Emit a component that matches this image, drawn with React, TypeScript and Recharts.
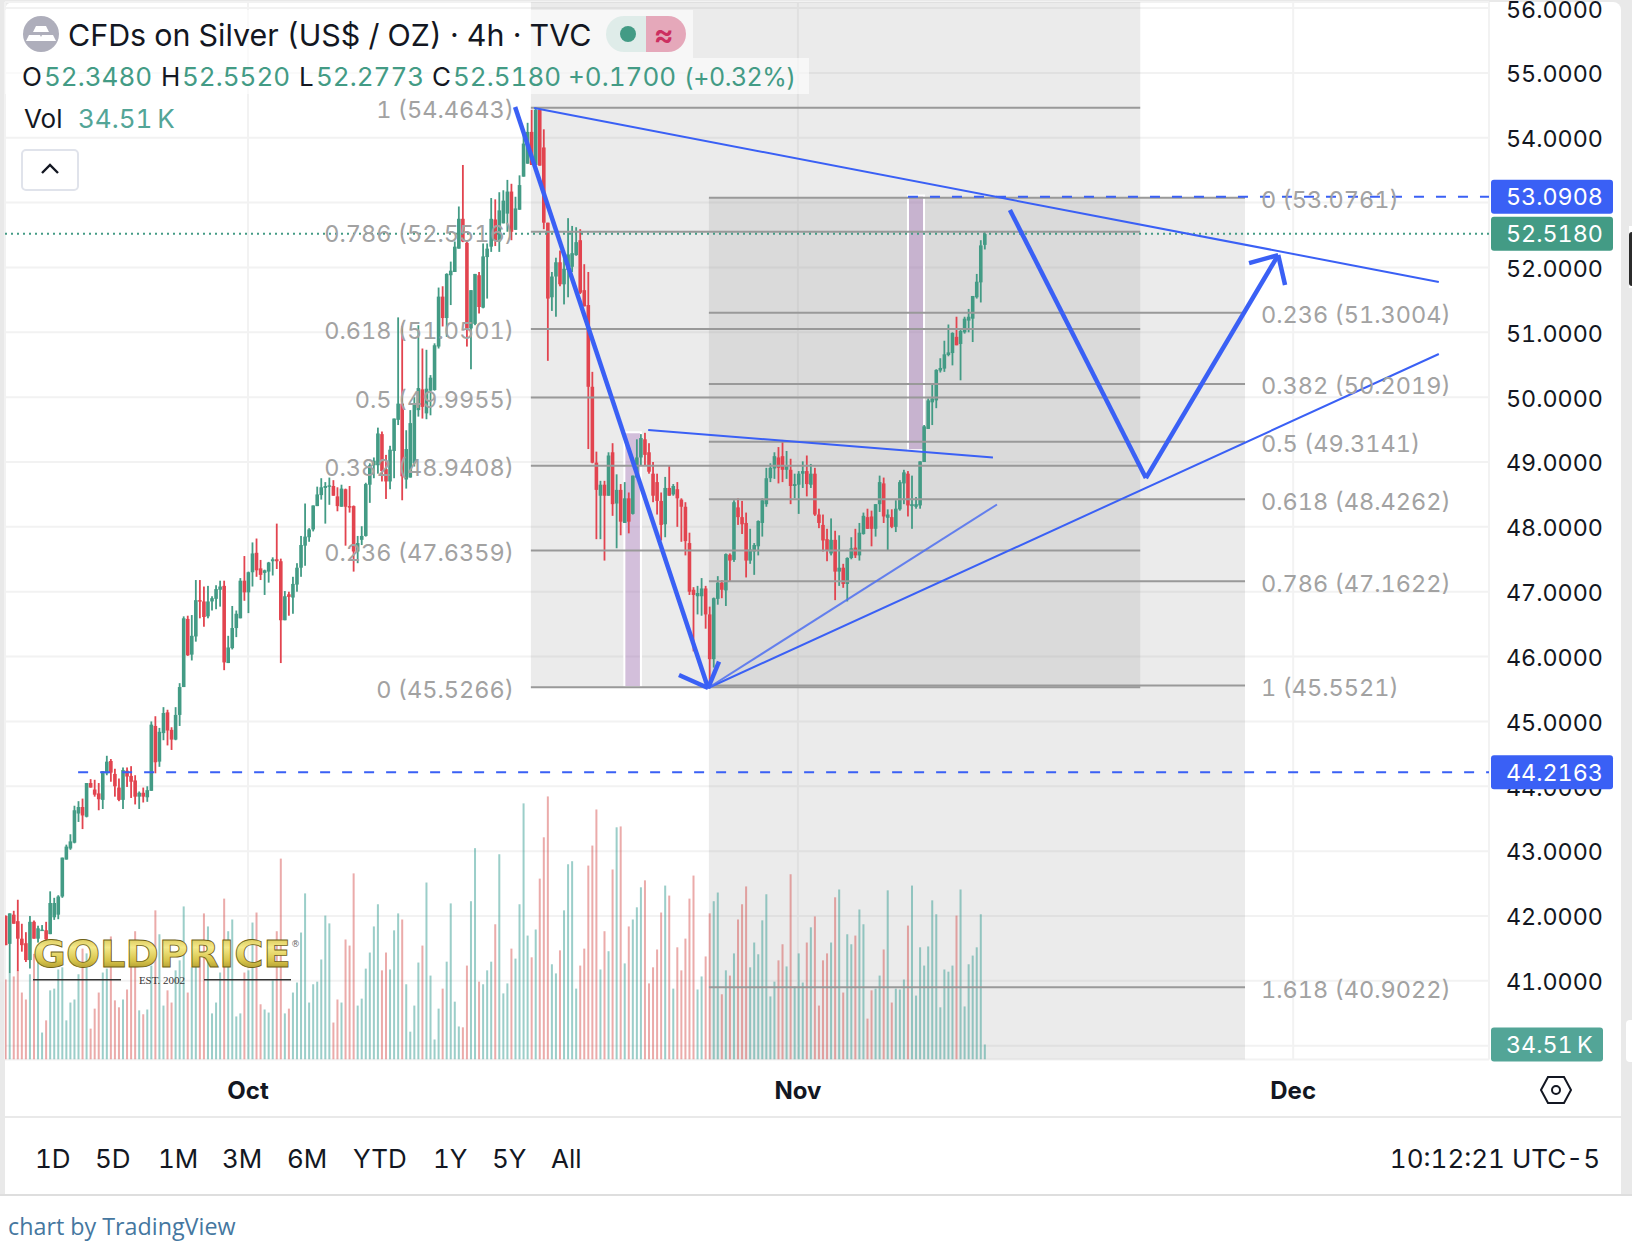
import {
  Bar,
  CartesianGrid,
  ComposedChart,
  ReferenceArea,
  ReferenceLine,
  XAxis,
  YAxis,
} from "recharts";

const opens = [
  42.0, 41.57, 42.02, 41.92, 41.65, 41.58, 41.32, 41.91, 41.65, 41.77,
  41.78, 41.72, 41.98, 42.02, 42.3, 42.87, 43.04, 43.13, 43.58, 43.68,
  43.53, 44.05, 43.95, 43.89, 43.79, 44.2, 44.39, 44.19, 43.98, 43.79,
  44.24, 44.16, 44.09, 43.84, 43.9, 43.83, 43.93, 44.93, 44.38, 44.82,
  45.14, 44.87, 44.72, 45.1, 45.53, 46.58, 46.03, 46.31, 46.87, 46.85,
  46.62, 46.85, 46.89, 47.03, 47.09, 45.9, 46.13, 46.44, 46.59, 47.17,
  46.99, 47.3, 47.6, 47.36, 47.29, 47.31, 47.47, 47.5, 47.47, 46.56,
  46.96, 46.91, 47.11, 47.37, 47.71, 47.84, 47.96, 48.32, 48.49, 48.6,
  48.62, 48.63, 48.47, 48.31, 48.58, 48.32, 48.32, 47.62, 47.8, 47.86,
  48.65, 48.95, 48.95, 49.43, 48.89, 48.7, 49.17, 49.65, 49.9, 48.73,
  48.76, 48.98, 49.8, 50.12, 49.75, 50.1, 50.11, 50.78, 51.55, 51.22,
  51.88, 51.93, 52.29, 52.75, 52.38, 51.06, 51.13, 51.88, 51.38, 52.16,
  52.32, 52.74, 52.4, 52.68, 52.83, 53.17, 52.58, 52.89, 53.4, 53.6,
  54.09, 53.58, 54.43, 53.85, 52.69, 51.54, 51.86, 52.08, 51.74, 51.96,
  52.01, 52.19, 52.42, 51.65, 51.42, 50.16, 48.99, 48.48, 48.65, 48.48,
  49.15, 48.36, 48.57, 48.06, 48.44, 48.2, 48.76, 49.07, 49.35, 49.15,
  48.82, 48.69, 48.4, 48.04, 48.6, 48.5, 48.58, 48.42, 48.31, 47.75,
  47.03, 46.93, 46.93, 47.05, 46.65, 45.96, 46.89, 47.14, 47.02, 47.57,
  47.49, 48.3, 48.15, 48.06, 47.48, 47.62, 47.7, 48.06, 48.35, 48.75,
  48.9, 49.07, 49.09, 48.88, 48.88, 48.63, 48.65, 48.82, 48.86, 48.65,
  48.82, 48.19, 48.03, 47.81, 47.59, 47.8, 47.31, 47.37, 47.12, 47.52,
  47.68, 47.56, 47.89, 48.15, 48.16, 47.97, 48.35, 48.67, 48.14, 48.15,
  48.0, 48.27, 48.67, 48.82, 48.32, 48.31, 48.33, 49.0, 49.51, 49.92,
  49.95, 50.41, 50.44, 50.65, 50.68, 50.93, 50.82, 51.0, 51.18, 51.21,
  51.54, 51.77, 52.348,
];

const highs = [
  42.01, 42.04, 42.08, 42.25, 41.88, 41.75, 42.0, 41.93, 41.85, 41.86,
  41.91, 42.38, 42.28, 42.32, 42.9, 43.1, 43.26, 43.7, 43.77, 43.81,
  44.05, 44.11, 44.1, 44.05, 44.23, 44.47, 44.42, 44.27, 44.12, 44.29,
  44.29, 44.31, 44.17, 43.92, 43.98, 44.0, 45.0, 45.08, 44.9, 45.22,
  45.18, 44.91, 45.22, 45.59, 46.62, 46.63, 46.64, 47.18, 47.18, 47.08,
  47.09, 46.93, 47.1, 47.17, 47.17, 46.32, 46.78, 46.71, 47.21, 47.55,
  47.31, 47.76, 47.82, 47.49, 47.34, 47.46, 47.53, 48.05, 47.51, 47.01,
  47.0, 47.23, 47.44, 47.86, 48.36, 47.98, 48.33, 48.62, 48.75, 48.69,
  48.76, 48.72, 48.61, 48.65, 48.59, 48.63, 48.33, 47.86, 48.01, 48.68,
  48.98, 49.07, 49.53, 49.47, 49.11, 49.25, 49.67, 51.23, 51.1, 49.49,
  49.8, 50.0, 51.11, 50.75, 50.73, 50.34, 50.83, 51.69, 51.71, 51.91,
  52.09, 52.4, 52.94, 53.58, 52.42, 51.65, 51.9, 51.93, 52.37, 52.37,
  53.07, 53.05, 53.16, 53.19, 53.35, 53.29, 53.09, 53.42, 54.07, 54.23,
  54.43, 54.47, 54.45, 54.13, 52.69, 51.93, 52.15, 52.26, 52.22, 52.76,
  52.64, 52.62, 52.59, 52.05, 51.93, 50.39, 49.16, 48.71, 48.71, 49.15,
  49.29, 48.81, 48.66, 48.69, 48.53, 48.79, 49.35, 49.43, 49.45, 49.29,
  49.0, 48.82, 48.53, 48.77, 48.94, 48.66, 48.69, 48.44, 48.38, 47.91,
  47.07, 47.09, 47.21, 47.09, 46.77, 46.91, 47.24, 47.18, 47.59, 47.59,
  48.41, 48.44, 48.4, 48.22, 47.97, 47.75, 48.1, 48.44, 48.91, 48.98,
  49.15, 49.23, 49.34, 49.17, 49.05, 48.82, 48.86, 49.01, 49.1, 48.97,
  48.91, 48.28, 48.19, 47.97, 48.13, 47.94, 47.87, 47.43, 47.53, 47.84,
  47.97, 48.06, 48.22, 48.28, 48.25, 48.35, 48.79, 48.76, 48.27, 48.27,
  48.41, 48.72, 48.88, 48.86, 48.79, 48.46, 49.01, 49.57, 49.98, 50.2,
  50.43, 50.6, 50.87, 51.12, 51.0, 51.24, 51.04, 51.24, 51.36, 51.56,
  51.9, 52.42, 52.552,
];

const lows = [
  41.55, 41.12, 41.88, 41.15, 41.45, 41.29, 41.19, 41.65, 41.59, 41.77,
  41.62, 41.72, 41.94, 41.95, 42.28, 42.87, 43.02, 43.12, 43.45, 43.34,
  43.52, 43.98, 43.84, 43.63, 43.65, 44.17, 44.07, 43.84, 43.77, 43.65,
  43.99, 43.82, 43.72, 43.65, 43.75, 43.76, 43.93, 44.2, 44.3, 44.71,
  44.63, 44.56, 44.71, 44.93, 45.53, 46.01, 45.94, 46.23, 46.59, 46.46,
  46.59, 46.71, 46.73, 46.77, 45.79, 45.9, 46.11, 46.3, 46.59, 46.86,
  46.67, 47.08, 47.23, 47.18, 46.95, 47.14, 47.25, 47.35, 45.9, 46.56,
  46.63, 46.66, 47.0, 47.23, 47.4, 47.77, 47.93, 48.32, 48.42, 48.05,
  48.34, 48.48, 48.24, 48.31, 47.71, 48.22, 47.31, 47.44, 47.72, 47.85,
  48.37, 48.75, 48.82, 48.7, 48.43, 48.58, 48.75, 49.57, 48.41, 48.59,
  48.76, 48.93, 49.7, 49.67, 49.66, 49.72, 50.1, 50.75, 51.09, 50.93,
  51.42, 51.93, 52.29, 52.39, 50.78, 50.43, 51.11, 51.29, 51.37, 51.52,
  52.24, 52.33, 52.24, 52.68, 52.55, 52.42, 52.58, 52.89, 53.4, 53.6,
  53.58, 53.58, 53.57, 52.59, 50.56, 51.33, 51.24, 51.71, 51.43, 51.54,
  51.93, 52.18, 51.59, 51.4, 49.2, 48.98, 47.81, 47.81, 47.48, 48.48,
  48.17, 47.67, 47.87, 48.06, 47.9, 48.19, 48.76, 48.94, 48.95, 48.82,
  48.38, 48.19, 47.79, 47.84, 48.48, 48.48, 48.0, 47.77, 47.56, 46.95,
  46.08, 46.65, 46.63, 46.43, 45.53, 45.83, 46.8, 46.9, 46.78, 47.15,
  47.46, 48.03, 47.89, 47.22, 47.43, 47.26, 47.56, 47.85, 48.31, 48.69,
  48.74, 48.67, 48.69, 48.74, 48.35, 48.44, 48.2, 48.6, 48.47, 48.6,
  48.17, 47.98, 47.62, 47.47, 47.56, 46.87, 47.09, 47.06, 46.85, 47.5,
  47.52, 47.48, 47.88, 47.97, 47.7, 47.85, 48.23, 48.06, 47.63, 47.98,
  47.92, 48.25, 48.35, 48.16, 47.97, 48.28, 48.28, 49.0, 49.51, 49.57,
  49.83, 50.38, 50.39, 50.63, 50.49, 50.8, 50.26, 50.98, 51.0, 50.85,
  51.52, 51.46, 52.2773,
];

const closes = [
  41.55, 42.04, 41.88, 41.65, 41.55, 41.32, 41.91, 41.65, 41.81, 41.79,
  41.64, 42.2, 42.2, 42.3, 42.9, 43.07, 43.15, 43.63, 43.68, 43.55,
  44.05, 43.98, 43.87, 43.8, 44.23, 44.38, 44.21, 44.0, 43.79, 44.25,
  44.15, 44.07, 43.84, 43.9, 43.84, 43.94, 44.95, 44.37, 44.84, 45.13,
  44.86, 44.72, 45.1, 45.53, 46.59, 46.02, 46.32, 46.87, 46.85, 46.61,
  46.85, 46.9, 47.04, 47.08, 45.91, 46.14, 46.44, 46.66, 47.17, 46.99,
  47.3, 47.59, 47.33, 47.26, 47.33, 47.45, 47.5, 47.47, 46.56, 46.93,
  46.92, 47.12, 47.37, 47.72, 47.85, 47.96, 48.33, 48.5, 48.61, 48.63,
  48.64, 48.48, 48.32, 48.59, 48.31, 48.3, 47.62, 47.75, 47.86, 48.66,
  48.95, 49.02, 49.44, 48.86, 48.7, 49.19, 49.67, 49.9, 48.78, 49.2,
  49.6, 49.88, 50.14, 49.85, 50.13, 50.3, 50.8, 51.55, 51.22, 51.9,
  51.95, 52.32, 52.75, 52.4, 51.06, 51.65, 51.9, 51.39, 52.17, 52.29,
  52.75, 52.41, 52.88, 53.03, 53.17, 52.55, 52.91, 53.27, 53.91, 54.09,
  53.58, 54.43, 53.57, 52.69, 51.52, 51.86, 52.08, 51.74, 51.98, 52.2,
  52.22, 52.39, 51.61, 51.4, 50.16, 48.99, 48.57, 48.65, 48.48, 49.1,
  48.35, 48.57, 48.08, 48.44, 48.08, 48.79, 49.07, 49.37, 49.11, 48.85,
  48.48, 48.4, 48.03, 48.6, 48.48, 48.63, 48.44, 48.31, 47.78, 47.0,
  46.95, 46.98, 47.05, 46.65, 45.96, 46.9, 47.14, 47.03, 47.58, 47.48,
  48.38, 48.15, 48.04, 47.48, 47.65, 47.72, 48.09, 48.41, 48.75, 48.91,
  49.09, 48.91, 48.88, 48.94, 48.63, 48.66, 48.82, 48.86, 48.66, 48.82,
  48.19, 48.06, 47.79, 47.63, 47.8, 47.31, 47.37, 47.12, 47.52, 47.67,
  47.56, 47.91, 48.17, 47.97, 47.97, 48.35, 48.69, 48.16, 48.19, 48.0,
  48.28, 48.69, 48.84, 48.33, 48.35, 48.35, 49.01, 49.55, 49.95, 49.98,
  50.42, 50.45, 50.66, 50.69, 50.99, 50.8, 51.02, 51.21, 51.24, 51.56,
  51.78, 52.34, 52.518,
];

// volume in thousands
const volumes = [
  184, 199, 191, 205, 154, 138, 196, 243, 224, 62,
  90, 159, 163, 207, 212, 90, 131, 138, 196, 255,
  244, 71, 117, 154, 200, 209, 283, 136, 120, 138,
  161, 235, 295, 113, 104, 115, 216, 343, 288, 124,
  159, 131, 205, 228, 352, 154, 212, 258, 243, 336,
  306, 106, 131, 200, 370, 295, 322, 99, 106, 200,
  205, 315, 338, 127, 115, 108, 182, 295, 462, 106,
  117, 154, 177, 292, 382, 131, 173, 179, 230, 331,
  313, 85, 138, 131, 276, 262, 428, 124, 140, 209,
  246, 306, 357, 205, 246, 207, 297, 336, 322, 173,
  64, 124, 223, 262, 407, 193, 46, 117, 163, 225,
  359, 133, 76, 74, 216, 364, 486, 179, 173, 205,
  225, 311, 472, 152, 175, 255, 232, 357, 589, 285,
  235, 299, 416, 511, 605, 219, 198, 251, 343, 449,
  456, 163, 216, 255, 446, 492, 575, 207, 295, 249,
  437, 534, 536, 221, 306, 322, 350, 396, 412, 175,
  212, 253, 338, 400, 377, 163, 258, 205, 278, 370,
  423, 161, 191, 237, 336, 364, 384, 150, 205, 193,
  244, 322, 357, 398, 212, 269, 242, 320, 380, 145,
  179, 228, 265, 214, 426, 168, 244, 177, 269, 304,
  329, 124, 228, 244, 269, 373, 391, 154, 288, 265,
  285, 345, 311, 94, 159, 163, 193, 253, 389, 131,
  163, 161, 184, 308, 400, 147, 258, 216, 260, 366,
  334, 120, 207, 202, 216, 331, 391, 122, 219, 239,
  258, 334, 34.51,
];

const priceTicks = [40, 41, 42, 43, 44, 45, 46, 47, 48, 49, 50, 51, 52, 53, 54, 55, 56];
const timeTicks = [59.9, 195.8, 318.2];
const timeLabels = ["Oct", "Nov", "Dec"];
const ranges = ["1D", "5D", "1M", "3M", "6M", "YTD", "1Y", "5Y", "All"];
const rangeLefts = [35, 95, 158, 222, 287, 353, 433, 492, 551];

const fibDown = [
  { ratio: "1", price: 54.4643 },
  { ratio: "0.786", price: 52.5516 },
  { ratio: "0.618", price: 51.0501 },
  { ratio: "0.5", price: 49.9955 },
  { ratio: "0.382", price: 48.9408 },
  { ratio: "0.236", price: 47.6359 },
  { ratio: "0", price: 45.5266 },
];
const fibUp = [
  { ratio: "0", price: 53.0761 },
  { ratio: "0.236", price: 51.3004 },
  { ratio: "0.382", price: 50.2019 },
  { ratio: "0.5", price: 49.3141 },
  { ratio: "0.618", price: 48.4262 },
  { ratio: "0.786", price: 47.1622 },
  { ratio: "1", price: 45.5521 },
  { ratio: "1.618", price: 40.9022 },
];

// [bar index, price] pairs of the drawings on the chart
const thinLines = [
  [[130.6, 54.459], [354.2, 51.776]],
  [[173.6, 45.515], [354.2, 50.665]],
  [[158.8, 49.494], [244.0, 49.07]],
];
const paleLines = [[[173.6, 45.515], [245.0, 48.345]]];
const thickLines = [
  [[125.9, 54.474], [173.6, 45.515]],
  [[166.4, 45.715], [173.6, 45.515]],
  [[176.3, 45.922], [173.6, 45.515]],
  [[248.2, 52.886], [281.8, 48.753]],
  [[281.8, 48.753], [314.5, 52.191]],
  [[307.3, 52.067], [314.5, 52.191]],
  [[316.2, 51.73], [314.5, 52.191]],
];

const X_MIN = -0.17;
const X_MAX = 366.6;
const PRICE_DOMAIN = [39.787, 56.093];
const VOLUME_DOMAIN = [0, 2432];

const UP = "#439b85";
const DOWN = "#e2444f";
const BLUE = "#3a60f5";
const FIB_LINE = "#999999";
const FIB_TEXT = "#a2a2a2";
const FONT = "Inter, sans-serif";

const candles = opens.map((open, i) => ({
  i,
  open,
  high: highs[i],
  low: lows[i],
  close: closes[i],
  range: [lows[i], highs[i]],
  volume: volumes[i],
}));

function CandleShape({ x, y, width, height, payload }: any) {
  const top = Math.min(y, y + height);
  const span = Math.abs(height);
  const total = payload.high - payload.low || 1;
  const bodyHi = Math.max(payload.open, payload.close);
  const bodyLo = Math.min(payload.open, payload.close);
  const bodyTop = top + ((payload.high - bodyHi) / total) * span;
  const bodyH = Math.max(((bodyHi - bodyLo) / total) * span, 1.5);
  const color = payload.close >= payload.open ? UP : DOWN;
  const mid = x + width / 2;
  return (
    <g>
      <rect x={mid - 0.9} y={top} width={1.8} height={span} fill={color} />
      <rect x={mid - 1.8} y={bodyTop} width={3.6} height={bodyH} fill={color} />
    </g>
  );
}

function VolumeShape({ x, y, width, height, payload }: any) {
  const up = payload.close >= payload.open;
  return (
    <rect
      x={x}
      y={y}
      width={width}
      height={height}
      fill={up ? "rgba(56,158,148,0.5)" : "rgba(210,68,66,0.45)"}
    />
  );
}

function PriceTick({ x, y, payload }: any) {
  return (
    <text
      x={x}
      y={y + 3}
      dominantBaseline="middle"
      fontSize={23.3}
      fontFamily={FONT}
      fill="#131722"
    >
      {payload.value.toFixed(4)}
    </text>
  );
}

function tag(text: string, fill: string, tagWidth: number) {
  return ({ viewBox }: any) => {
    const cy = viewBox.y;
    return (
      <g>
        <rect x={1491} y={cy - 17} width={tagWidth} height={34} rx={3} fill={fill} />
        <text
          x={1506}
          y={cy + 2}
          dominantBaseline="middle"
          fill="#ffffff"
          fontFamily={FONT}
          fontSize={23.3}
        >
          {text}
        </text>
      </g>
    );
  };
}

function Txt({ x, y, size = 26, color = "#131722", weight = 400, right, spacing, font = FONT, children }: any) {
  return (
    <div
      style={{
        position: "absolute",
        left: right === undefined ? x : undefined,
        right,
        top: y - 20,
        height: 40,
        lineHeight: "40px",
        fontSize: size,
        color,
        fontWeight: weight,
        fontFamily: font,
        letterSpacing: spacing,
        whiteSpace: "nowrap",
      }}
    >
      {children}
    </div>
  );
}

function Logo() {
  return (
    <svg width={300} height={70} style={{ position: "absolute", left: 20, top: 925 }}>
      <defs>
        <linearGradient id="gold" x1="0" y1="0" x2="0" y2="1">
          <stop offset="0%" stopColor="#c9b23a" />
          <stop offset="35%" stopColor="#f4e98a" />
          <stop offset="65%" stopColor="#d8c44a" />
          <stop offset="100%" stopColor="#8d7a1c" />
        </linearGradient>
      </defs>
      <text
        x={13}
        y={42}
        textLength={258}
        lengthAdjust="spacingAndGlyphs"
        fontFamily="'DejaVu Sans', sans-serif"
        fontWeight={700}
        fontSize={38}
        fill="url(#gold)"
        stroke="#6f6216"
        strokeWidth={0.8}
      >
        GOLDPRICE
      </text>
      <text x={271} y={22} fontSize={9} fontFamily="'DejaVu Sans', sans-serif" fill="#666">
        ®
      </text>
      <rect x={13} y={54} width={88} height={1.5} fill="#333" />
      <rect x={184} y={54} width={87} height={1.5} fill="#333" />
      <text x={142} y={59} textAnchor="middle" fontSize={11} fontFamily="'Liberation Serif', serif" fill="#333">
        EST. 2002
      </text>
    </svg>
  );
}

export default function App() {
  return (
    <div style={{ position: "relative", width: 1632, height: 1252, background: "#fff", overflow: "hidden" }}>
      <style>{"body{margin:0} #root *{font-variant-numeric:tabular-nums}"}</style>
      {/* page frame */}
      <div style={{ position: "absolute", left: 0, top: 0, width: 1632, height: 1195, background: "#e9e9e9" }} />
      <div style={{ position: "absolute", left: 5, top: 2, width: 1616, height: 1193, background: "#fff", borderTopLeftRadius: 8, borderTopRightRadius: 8 }} />
      <div style={{ position: "absolute", left: 1629, top: 226, width: 3, height: 62, background: "#fff" }} />
      <div style={{ position: "absolute", left: 1629, top: 232, width: 3, height: 54, background: "#2b2b2b", borderRadius: "3px 0 0 3px" }} />
      <div style={{ position: "absolute", left: 1626, top: 1020, width: 6, height: 42, background: "#fff", borderRadius: "4px 0 0 4px" }} />
      <div style={{ position: "absolute", left: 5, top: 1116, width: 1616, height: 2, background: "#e9e9e9" }} />
      <div style={{ position: "absolute", left: 0, top: 1194, width: 1632, height: 2, background: "#dedede" }} />

      <div style={{ position: "absolute", left: 0, top: 0 }}>
        <ComposedChart
          width={1632}
          height={1116}
          data={candles}
          margin={{ top: 2, right: 0, bottom: 0, left: 5 }}
        >
          <CartesianGrid stroke="#f2f2f2" strokeWidth={2} />
          <XAxis
            dataKey="i"
            type="number"
            domain={[X_MIN, X_MAX]}
            ticks={timeTicks}
            allowDataOverflow
            height={56.5}
            axisLine={false}
            tickLine={false}
            tickMargin={16}
            tickFormatter={(v: number) => timeLabels[timeTicks.indexOf(v)]}
            tick={{ fontSize: 24, fontWeight: 700, fill: "#131722", fontFamily: FONT }}
          />
          <XAxis xAxisId="vol" dataKey="i" type="number" domain={[X_MIN, X_MAX]} allowDataOverflow hide />
          <YAxis
            orientation="right"
            width={143}
            domain={PRICE_DOMAIN}
            ticks={priceTicks}
            allowDataOverflow
            axisLine={false}
            tickLine={false}
            tickMargin={11}
            tick={PriceTick}
          />
          <YAxis yAxisId="vol" domain={VOLUME_DOMAIN} allowDataOverflow hide />

          <ReferenceArea x1={129.8} x2={280.4} y1={45.5266} y2={56.093} fill="#8f8f8f" fillOpacity={0.18} stroke="none" />
          <ReferenceArea x1={173.8} x2={306.3} y1={39.787} y2={53.0761} fill="#8f8f8f" fillOpacity={0.18} stroke="none" />

          <Bar
            xAxisId="vol"
            yAxisId="vol"
            dataKey="volume"
            barSize={2}
            shape={VolumeShape}
            isAnimationActive={false}
          />
          <Bar dataKey="range" barSize={4} shape={CandleShape} isAnimationActive={false} />

          <ReferenceArea x1={152.9} x2={157} y1={45.53} y2={49.46} fill="#9b59b6" fillOpacity={0.3} stroke="#ffffff" strokeWidth={2} />
          <ReferenceArea x1={223} x2={226.97} y1={49.18} y2={53.11} fill="#9b59b6" fillOpacity={0.3} stroke="#ffffff" strokeWidth={2} />

          {fibDown.map((f) => (
            <ReferenceLine
              key={"down" + f.ratio}
              segment={[{ x: 129.8, y: f.price }, { x: 280.4, y: f.price }]}
              stroke={FIB_LINE}
              strokeWidth={2}
              label={{
                value: `${f.ratio} (${f.price.toFixed(4)})`,
                position: "left",
                offset: 17,
                dy: 2,
                fill: FIB_TEXT,
                fontSize: 23.5,
                fontFamily: FONT,
              }}
            />
          ))}
          {fibUp.map((f) => (
            <ReferenceLine
              key={"up" + f.ratio}
              segment={[{ x: 173.8, y: f.price }, { x: 306.3, y: f.price }]}
              stroke={FIB_LINE}
              strokeWidth={2}
              label={{
                value: `${f.ratio} (${f.price.toFixed(4)})`,
                position: "right",
                offset: 16,
                dy: 2,
                fill: FIB_TEXT,
                fontSize: 23.5,
                fontFamily: FONT,
              }}
            />
          ))}

          <ReferenceLine y={52.518} stroke={UP} strokeWidth={2} strokeDasharray="2 4" />
          <ReferenceLine
            segment={[{ x: 223, y: 53.0908 }, { x: X_MAX, y: 53.0908 }]}
            stroke={BLUE}
            strokeWidth={2}
            strokeDasharray="10 12"
          />
          <ReferenceLine
            segment={[{ x: 17.9, y: 44.2163 }, { x: X_MAX, y: 44.2163 }]}
            stroke={BLUE}
            strokeWidth={2}
            strokeDasharray="10 12"
          />

          {thinLines.map((l, n) => (
            <ReferenceLine
              key={"thin" + n}
              segment={[{ x: l[0][0], y: l[0][1] }, { x: l[1][0], y: l[1][1] }]}
              stroke={BLUE}
              strokeWidth={2}
            />
          ))}
          {paleLines.map((l, n) => (
            <ReferenceLine
              key={"pale" + n}
              segment={[{ x: l[0][0], y: l[0][1] }, { x: l[1][0], y: l[1][1] }]}
              stroke="#4d6ef0"
              strokeWidth={2}
              strokeOpacity={0.85}
            />
          ))}
          {thickLines.map((l, n) => (
            <ReferenceLine
              key={"thick" + n}
              segment={[{ x: l[0][0], y: l[0][1] }, { x: l[1][0], y: l[1][1] }]}
              stroke={BLUE}
              strokeWidth={4.5}
            />
          ))}
        </ComposedChart>
      </div>

      {/* price tags sit above the axis labels */}
      <div style={{ position: "absolute", left: 0, top: 0 }}>
        <ComposedChart
          width={1632}
          height={1116}
          data={candles}
          margin={{ top: 2, right: 0, bottom: 0, left: 5 }}
        >
          <XAxis dataKey="i" type="number" domain={[X_MIN, X_MAX]} allowDataOverflow height={56.5} axisLine={false} tickLine={false} tick={false} />
          <YAxis orientation="right" width={143} domain={PRICE_DOMAIN} allowDataOverflow axisLine={false} tickLine={false} tick={false} />
          <YAxis yAxisId="vol" domain={VOLUME_DOMAIN} allowDataOverflow hide />
          <ReferenceLine y={52.518} stroke="none" label={tag("52.5180", UP, 122)} />
          <ReferenceLine y={53.0908} stroke="none" label={tag("53.0908", BLUE, 122)} />
          <ReferenceLine y={44.2163} stroke="none" label={tag("44.2163", BLUE, 122)} />
          <ReferenceLine yAxisId="vol" y={34.51} stroke="none" label={tag("34.51\u2009K", "#53a597", 112)} />
        </ComposedChart>
      </div>

      {/* legend block */}
      <div style={{ position: "absolute", left: 5, top: 10, width: 688, height: 48, background: "rgba(255,255,255,0.6)" }} />
      <div style={{ position: "absolute", left: 5, top: 58, width: 804, height: 36, background: "rgba(255,255,255,0.6)" }} />
      <svg width={38} height={38} style={{ position: "absolute", left: 22, top: 15 }}>
        <circle cx={19} cy={19} r={18} fill="#aeaebb" />
        <path d="M14 11h10l3 6H11z M7 20h11l3 6H4z M20 20h11l3 6H17z" fill="#fff" />
      </svg>
      <Txt x={68} y={35} size={30.4}>CFDs on Silver (US$ / OZ) · 4h · TVC</Txt>
      <div style={{ position: "absolute", left: 606, top: 16, width: 40, height: 36, background: "#dfece9", borderRadius: "18px 0 0 18px" }} />
      <div style={{ position: "absolute", left: 646, top: 16, width: 40, height: 36, background: "#e5a8ba", borderRadius: "0 18px 18px 0" }} />
      <div style={{ position: "absolute", left: 620, top: 26, width: 16, height: 16, background: UP, borderRadius: 8 }} />
      <Txt x={654} y={34} size={30} color="#cc2f60" weight={600}>≈</Txt>

      <Txt x={22} y={77}>O</Txt>
      <Txt x={44} y={77} color={UP}>52.3480</Txt>
      <Txt x={161} y={77}>H</Txt>
      <Txt x={182} y={77} color={UP}>52.5520</Txt>
      <Txt x={299} y={77}>L</Txt>
      <Txt x={316} y={77} color={UP}>52.2773</Txt>
      <Txt x={432} y={77}>C</Txt>
      <Txt x={453} y={77} color={UP}>52.5180</Txt>
      <Txt x={568} y={77} color={UP}>+0.1700</Txt>
      <Txt x={684} y={77} size={25} spacing={-0.5} color={UP}>(+0.32%)</Txt>
      <Txt x={24} y={119}>Vol</Txt>
      <Txt x={78} y={119} color="#53a597">34.51{"\u2009"}K</Txt>

      <div style={{ position: "absolute", left: 21, top: 149, width: 54, height: 38, border: "2px solid #e0e3eb", borderRadius: 5, background: "#fff" }} />
      <svg width={20} height={12} style={{ position: "absolute", left: 40, top: 163 }}>
        <path d="M2 10l8-8 8 8" fill="none" stroke="#131722" strokeWidth={2.4} />
      </svg>

      <Logo />

      <svg width={34} height={30} style={{ position: "absolute", left: 1539, top: 1075 }}>
        <path d="M2 15L9 2h16l7 13-7 13H9z" fill="none" stroke="#131722" strokeWidth={2} />
        <circle cx={17} cy={15} r={4} fill="none" stroke="#131722" strokeWidth={2} />
      </svg>

      {ranges.map((r, n) => (
        <Txt key={r} x={rangeLefts[n]} y={1159} size={26}>{r}</Txt>
      ))}
      <Txt right={32} y={1159} size={26}>10:12:21 UTC-5</Txt>
      <Txt x={8} y={1226} size={23.3} color="#4577a0" font="'Open Sans', sans-serif">chart by TradingView</Txt>
    </div>
  );
}
